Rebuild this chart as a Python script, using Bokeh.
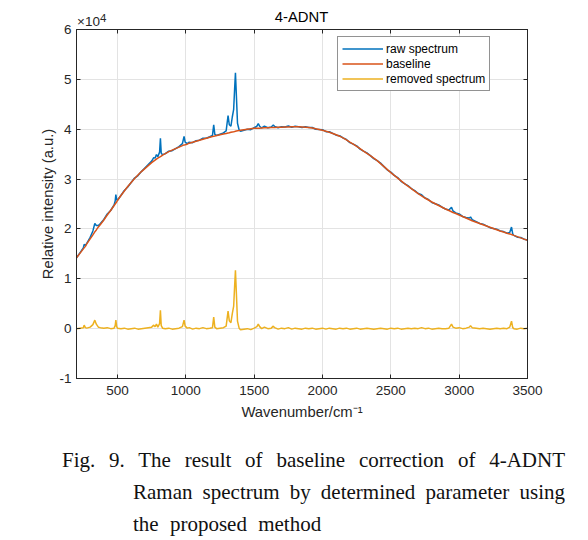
import numpy as np
from bokeh.plotting import figure
from bokeh.models import (Range1d, LinearAxis, FixedTicker, Legend, LegendItem,
                          ColumnDataSource, Div)
from bokeh.layouts import column
from bokeh.embed import file_html
from bokeh.resources import INLINE

# ---------------- data (intensities in units of 1e4) ----------------
wavenumber = [
    200, 225, 250, 256, 265, 275, 300, 320, 334, 345, 360, 375, 400, 425, 450, 475,
    483, 488, 494, 500, 525, 550, 575, 600, 625, 650, 675, 700, 725, 750, 765, 775,
    785, 795, 808, 814, 820, 830, 850, 875, 900, 925, 950, 975, 987, 995, 1010, 1025,
    1050, 1075, 1100, 1125, 1150, 1175, 1195, 1204, 1212, 1225, 1250, 1275, 1295, 1309,
    1318, 1330, 1340, 1350, 1357, 1363, 1370, 1378, 1390, 1400, 1425, 1450, 1475, 1500,
    1520, 1530, 1540, 1555, 1575, 1600, 1625, 1640, 1650, 1675, 1700, 1725, 1750, 1775,
    1800, 1825, 1850, 1875, 1900, 1925, 1950, 1975, 2000, 2025, 2050, 2075, 2100, 2125,
    2150, 2175, 2200, 2225, 2250, 2275, 2300, 2325, 2350, 2375, 2400, 2425, 2450, 2475,
    2500, 2525, 2550, 2575, 2600, 2625, 2650, 2675, 2700, 2725, 2750, 2775, 2800, 2825,
    2850, 2875, 2900, 2925, 2944, 2955, 2975, 3000, 3025, 3050, 3075, 3083, 3095, 3125,
    3150, 3175, 3200, 3225, 3250, 3275, 3300, 3325, 3350, 3370, 3383, 3392, 3400, 3425,
    3450, 3475, 3500,
]
baseline = [
    1.42, 1.51, 1.60, 1.62, 1.65, 1.70, 1.80, 1.88, 1.94, 1.98, 2.04, 2.09, 2.18, 2.28, 2.37, 2.47,
    2.50, 2.52, 2.54, 2.57, 2.67, 2.76, 2.85, 2.93, 3.01, 3.08, 3.15, 3.21, 3.27, 3.33, 3.36, 3.38,
    3.40, 3.42, 3.44, 3.45, 3.46, 3.48, 3.51, 3.55, 3.58, 3.61, 3.64, 3.67, 3.685, 3.69, 3.70, 3.72,
    3.74, 3.76, 3.78, 3.80, 3.82, 3.84, 3.855, 3.86, 3.865, 3.875, 3.89, 3.905, 3.915, 3.925,
    3.93, 3.94, 3.945, 3.95, 3.955, 3.96, 3.965, 3.97, 3.975, 3.98, 3.99, 4.00, 4.01, 4.02,
    4.02, 4.02, 4.02, 4.025, 4.03, 4.03, 4.035, 4.035, 4.035, 4.04, 4.04, 4.045, 4.045, 4.05,
    4.05, 4.05, 4.045, 4.04, 4.035, 4.025, 4.01, 3.995, 3.98, 3.96, 3.94, 3.915, 3.89, 3.86,
    3.825, 3.785, 3.74, 3.70, 3.655, 3.61, 3.56, 3.515, 3.47, 3.42, 3.37, 3.31, 3.25, 3.19,
    3.13, 3.075, 3.02, 2.965, 2.91, 2.86, 2.81, 2.76, 2.71, 2.665, 2.62, 2.58, 2.54, 2.505,
    2.47, 2.435, 2.40, 2.37, 2.345, 2.33, 2.31, 2.28, 2.25, 2.22, 2.19, 2.18, 2.165, 2.135,
    2.11, 2.085, 2.06, 2.035, 2.01, 1.985, 1.96, 1.937, 1.915, 1.90, 1.887, 1.88, 1.87, 1.845,
    1.82, 1.795, 1.77,
]
removed = [
    0.00, 0.01, 0.02, 0.07, 0.02, 0.01, 0.03, 0.08, 0.17, 0.09, 0.03, 0.02, 0.01, 0.02, 0.00, 0.01,
    0.06, 0.17, 0.04, 0.01, 0.00, 0.01, -0.01, 0.00, 0.01, -0.01, 0.00, 0.01, 0.02, 0.03, 0.07, 0.04,
    0.09, 0.03, 0.10, 0.37, 0.06, 0.01, 0.00, 0.01, -0.01, 0.00, 0.01, 0.04, 0.17, 0.05, 0.01, 0.02,
    -0.01, 0.01, 0.00, 0.02, 0.00, 0.01, 0.02, 0.23, 0.03, 0.00, 0.01, 0.02, 0.05, 0.35,
    0.16, 0.12, 0.30, 0.45, 0.85, 1.17, 0.70, 0.15, 0.01, -0.02, -0.01, 0.00, -0.02, 0.01,
    0.04, 0.09, 0.04, 0.00, 0.03, 0.00, 0.01, 0.05, 0.02, -0.01, 0.01, 0.00, 0.02, -0.01,
    0.01, 0.00, -0.01, 0.01, 0.00, 0.01, -0.01, 0.00, 0.01, -0.01, 0.01, 0.00, -0.01, 0.01,
    0.00, 0.01, -0.01, 0.00, 0.01, -0.01, 0.00, 0.01, 0.00, -0.01, 0.00, 0.01, 0.00, -0.01,
    0.01, 0.00, 0.01, -0.01, 0.00, 0.01, 0.00, 0.01, 0.00, 0.02, 0.00, 0.01, -0.01, 0.00,
    0.01, 0.00, 0.00, 0.01, 0.09, 0.03, 0.01, 0.02, 0.00, 0.01, 0.03, 0.06, 0.02, 0.01,
    0.00, 0.01, 0.00, -0.01, 0.00, 0.01, 0.00, 0.01, 0.00, 0.03, 0.15, 0.02, 0.00, -0.01,
    0.01, 0.00, 0.01,
]
raw = list(np.array(baseline) + np.array(removed))

x_ticks = [500, 1000, 1500, 2000, 2500, 3000, 3500]
y_ticks = [-1, 0, 1, 2, 3, 4, 5, 6]
series_names = ["raw spectrum", "baseline", "removed spectrum"]
series_colors = ["#0072BD", "#D95319", "#EDB120"]

chart_title = "4-ADNT"
y_exponent = "4"
caption_lines = [
    ["Fig.", "9.", "The", "result", "of", "baseline", "correction", "of", "4-ADNT"],
    ["Raman", "spectrum", "by", "determined", "parameter", "using"],
    ["the", "proposed", "method"],
]

# ---------------- layout constants ----------------
W = 588
H_HEAD = 28          # header content height
HEAD_OVERLAP = 10    # plot canvas starts this much above header bottom
H_PLOT = 412
H_CAP = 110
AX = "#262626"
SANS = "Liberation Sans"

# ---------------- header (title and axis multiplier) ----------------
head_html = (
    f'<div style="position:relative;width:{W}px;height:{H_HEAD}px;font-family:\'{SANS}\';">'
    f'<div style="position:absolute;left:76px;width:451px;top:10px;line-height:15px;'
    f'font-size:14.8px;text-align:center;color:#000;">{chart_title}</div>'
    f'<div style="position:absolute;left:77px;top:14.5px;line-height:13.5px;'
    f'font-size:13.5px;color:{AX};">\u00d710</div>'
    f'<div style="position:absolute;left:100px;top:11.5px;line-height:12px;'
    f'font-size:11.5px;color:{AX};">{y_exponent}</div>'
    '</div>'
)
head = Div(text=head_html, width=W, height=H_HEAD, margin=(0, 0, -HEAD_OVERLAP, 0))

# ---------------- chart ----------------
src = ColumnDataSource(dict(x=wavenumber, raw=raw, base=baseline, rem=removed))

p = figure(width=W, height=H_PLOT, output_backend="svg", toolbar_location=None,
           x_range=Range1d(200, 3500), y_range=Range1d(-1, 6),
           min_border_left=76, min_border_right=61, min_border_top=11,
           min_border_bottom=52)
p.outline_line_color = AX
p.outline_line_width = 1
p.background_fill_color = "white"
p.border_fill_alpha = 0

p.xaxis.ticker = FixedTicker(ticks=x_ticks)
p.yaxis.ticker = FixedTicker(ticks=y_ticks)
p.yaxis.major_label_overrides = {t: str(t) for t in y_ticks}
for ax in (p.xaxis[0], p.yaxis[0]):
    ax.axis_line_color = AX
    ax.major_tick_line_color = AX
    ax.major_tick_in = 4
    ax.major_tick_out = 0
    ax.minor_tick_line_color = None
    ax.major_label_text_font = SANS
    ax.major_label_text_font_size = "13.5px"
    ax.major_label_text_color = AX
    ax.axis_label_text_font = SANS
    ax.axis_label_text_font_size = "14.8px"
    ax.axis_label_text_font_style = "normal"
    ax.axis_label_text_color = AX
p.xaxis.major_label_standoff = 7
p.yaxis.major_label_standoff = 5
p.xaxis.axis_label = "Wavenumber/cm\u207b\u00b9"
p.yaxis.axis_label = "Relative intensity (a.u.)"
p.xaxis.axis_label_standoff = 6
p.yaxis.axis_label_standoff = 0

for loc, ticks in (("above", x_ticks), ("right", y_ticks)):
    ax = LinearAxis(ticker=FixedTicker(ticks=ticks))
    ax.axis_line_color = AX
    ax.major_tick_line_color = AX
    ax.major_tick_in = 4
    ax.major_tick_out = 0
    ax.minor_tick_line_color = None
    ax.major_label_text_font_size = "1px"
    ax.major_label_text_alpha = 0
    ax.major_label_text_color = None
    ax.major_label_standoff = 0
    p.add_layout(ax, loc)

p.grid.grid_line_color = "#e3e3e3"
p.grid.grid_line_width = 1

r_raw = p.line("x", "raw", source=src, color=series_colors[0], line_width=1.5)
r_base = p.line("x", "base", source=src, color=series_colors[1], line_width=1.5)
r_rem = p.line("x", "rem", source=src, color=series_colors[2], line_width=1.5)

legend = Legend(items=[LegendItem(label=series_names[0], renderers=[r_raw]),
                       LegendItem(label=series_names[1], renderers=[r_base]),
                       LegendItem(label=series_names[2], renderers=[r_rem])],
                location=(261, 287))
legend.label_text_font = SANS
legend.label_text_font_size = "12px"
legend.label_text_color = "black"
legend.glyph_width = 41
legend.glyph_height = 15
legend.label_height = 15
legend.label_standoff = 3
legend.padding = 4
legend.spacing = 0
legend.margin = 0
legend.border_line_color = AX
legend.border_line_width = 1
legend.background_fill_alpha = 1
p.add_layout(legend)

# ---------------- caption (justified, hanging indent) ----------------
line_css = [
    "text-align:justify;text-align-last:justify;",
    "text-align:justify;text-align-last:justify;margin-left:71px;",
    "text-align:left;margin-left:71px;word-spacing:6px;",
]
cap_html = (
    '<div style="font-family:\'Liberation Serif\';font-size:21px;line-height:32px;'
    'color:#111;padding-top:14px;margin-left:62px;width:503px;white-space:nowrap;">'
    + "".join(f'<div style="{css}">{" ".join(words)}</div>'
              for css, words in zip(line_css, caption_lines))
    + '</div>'
)
cap = Div(text=cap_html, width=W, height=H_CAP, margin=0)

layout = column(head, p, cap, spacing=0)
open("out.html", "w").write(file_html(layout, INLINE))
